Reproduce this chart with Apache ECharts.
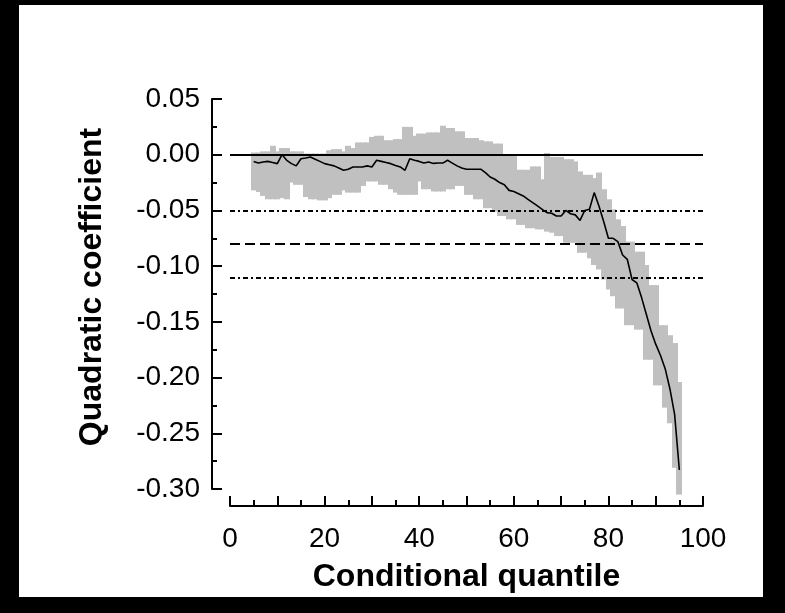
<!DOCTYPE html>
<html>
<head>
<meta charset="utf-8">
<script src="https://cdn.jsdelivr.net/npm/echarts@6/dist/echarts.min.js"></script>
<style>
html,body{margin:0;padding:0;background:#000;width:785px;height:613px;overflow:hidden;}
#paper{position:absolute;left:19px;top:5px;width:744px;height:592px;background:#fff;}
#chart{position:absolute;left:0;top:0;width:785px;height:613px;}
</style>
</head>
<body>
<div id="paper"></div>
<div id="chart"></div>
<script>
// Conditional quantiles (x)
const quantiles = [5,6,7,8,9,10,11,12,13,14,15,16,17,18,19,20,21,22,23,24,25,26,27,28,29,30,31,32,33,34,35,36,37,38,39,40,41,42,43,44,45,46,47,48,49,50,51,52,53,54,55,56,57,58,59,60,61,62,63,64,65,66,67,68,69,70,71,72,73,74,75,76,77,78,79,80,81,82,83,84,85,86,87,88,89,90,91,92,93,94,95];
// Quadratic coefficient estimates
const estimate = [-0.006,-0.0075,-0.0066,-0.006,-0.007,-0.008,0.000,-0.005,-0.008,-0.010,-0.0036,-0.003,-0.002,-0.004,-0.006,-0.008,-0.009,-0.010,-0.012,-0.014,-0.013,-0.011,-0.011,-0.011,-0.010,-0.011,-0.005,-0.006,-0.007,-0.008,-0.0096,-0.011,-0.014,-0.0036,-0.005,-0.006,-0.0075,-0.0066,-0.0078,-0.0075,-0.0075,-0.005,-0.0075,-0.010,-0.012,-0.013,-0.013,-0.013,-0.013,-0.016,-0.020,-0.022,-0.025,-0.027,-0.032,-0.033,-0.035,-0.037,-0.040,-0.043,-0.046,-0.049,-0.052,-0.0525,-0.055,-0.055,-0.050,-0.053,-0.054,-0.059,-0.050,-0.049,-0.034,-0.046,-0.060,-0.075,-0.075,-0.078,-0.090,-0.094,-0.112,-0.115,-0.128,-0.143,-0.158,-0.170,-0.180,-0.192,-0.210,-0.233,-0.283];
// Confidence band upper bound
const upper = [0.002,0.002,0.003,0.003,0.008,0.003,0.006,0.006,0.003,0.003,0.003,0.001,0.001,0.001,0.001,0.001,0.004,0.005,0.005,0.003,0.008,0.006,0.011,0.011,0.011,0.016,0.017,0.017,0.013,0.013,0.014,0.014,0.025,0.025,0.017,0.019,0.019,0.020,0.020,0.020,0.026,0.024,0.024,0.021,0.021,0.015,0.015,0.015,0.013,0.012,0.012,0.010,0.010,0.000,0.000,0.000,-0.0135,-0.0135,-0.0135,-0.0105,-0.0105,-0.022,0.0015,-0.002,-0.002,-0.002,-0.004,-0.004,-0.006,-0.015,-0.018,-0.018,-0.021,-0.016,-0.031,-0.040,-0.049,-0.058,-0.064,-0.078,-0.078,-0.087,-0.087,-0.099,-0.117,-0.117,-0.153,-0.153,-0.162,-0.169,-0.204];
// Confidence band lower bound
const lower = [-0.032,-0.0335,-0.037,-0.040,-0.040,-0.040,-0.039,-0.040,-0.025,-0.027,-0.027,-0.038,-0.040,-0.040,-0.041,-0.041,-0.039,-0.036,-0.036,-0.032,-0.034,-0.034,-0.034,-0.028,-0.024,-0.024,-0.024,-0.027,-0.027,-0.031,-0.034,-0.036,-0.036,-0.036,-0.036,-0.024,-0.031,-0.031,-0.033,-0.033,-0.033,-0.031,-0.031,-0.028,-0.028,-0.036,-0.036,-0.040,-0.040,-0.048,-0.048,-0.051,-0.055,-0.055,-0.058,-0.058,-0.063,-0.063,-0.066,-0.066,-0.067,-0.067,-0.069,-0.070,-0.073,-0.073,-0.079,-0.079,-0.079,-0.088,-0.088,-0.093,-0.099,-0.103,-0.112,-0.121,-0.127,-0.138,-0.138,-0.153,-0.153,-0.157,-0.157,-0.184,-0.184,-0.207,-0.207,-0.227,-0.241,-0.281,-0.305];
// Reference lines
const zeroLine = 0;
const meanLine = -0.083;
const ciLines = [-0.0545, -0.1125];
// Axis tick labels shown
const xTickLabels = [0, 20, 40, 60, 80, 100];

const FONT = "'Liberation Sans', Arial, sans-serif";
const bandData = quantiles.map((q, i) => [q, lower[i], upper[i]]);
const lineData = quantiles.map((q, i) => [q, estimate[i]]);

const chart = echarts.init(document.getElementById('chart'), null, {renderer: 'canvas'});
chart.setOption({
  backgroundColor: 'transparent',
  animation: false,
  grid: {left: 230, right: 82, top: 99, bottom: 124, containLabel: false},
  xAxis: {
    type: 'value', min: 0, max: 100, interval: 10, offset: 17,
    name: 'Conditional quantile', nameLocation: 'middle', nameGap: 55,
    nameTextStyle: {fontFamily: FONT, fontWeight: 'bold', fontSize: 32, color: '#000'},
    axisLine: {show: true, onZero: false, lineStyle: {color: '#000', width: 2}},
    axisTick: {show: true, inside: true, length: 10, lineStyle: {color: '#000', width: 2}},
    minorTick: {show: true, splitNumber: 2, length: 6, lineStyle: {color: '#000', width: 2}},
    axisLabel: {
      fontFamily: FONT, fontSize: 28, color: '#000', margin: 19,
      formatter: v => xTickLabels.indexOf(Math.round(v)) >= 0 && Math.abs(v - Math.round(v)) < 1e-9 ? String(Math.round(v)) : ''
    },
    splitLine: {show: false}, minorSplitLine: {show: false}
  },
  yAxis: {
    type: 'value', min: -0.30, max: 0.05, interval: 0.05, offset: 18,
    name: 'Quadratic coefficient', nameLocation: 'middle', nameGap: 104, nameRotate: 90,
    nameTextStyle: {fontFamily: FONT, fontWeight: 'bold', fontSize: 32, color: '#000', padding: [0, 0, 0, 14]},
    axisLine: {show: true, onZero: false, lineStyle: {color: '#000', width: 2}},
    axisTick: {show: true, inside: true, length: 10, lineStyle: {color: '#000', width: 2}},
    minorTick: {show: true, splitNumber: 2, length: 5, lineStyle: {color: '#000', width: 2}},
    axisLabel: {
      fontFamily: FONT, fontSize: 28, color: '#000', margin: 12,
      formatter: v => Math.abs(v) < 1e-9 ? '0.00' : v.toFixed(2)
    },
    splitLine: {show: false}, minorSplitLine: {show: false}
  },
  series: [
    {
      type: 'custom',
      data: bandData,
      encode: {x: 0, y: [1, 2]},
      z: 1,
      silent: true,
      renderItem: function (params, api) {
        const q = api.value(0);
        const p1 = api.coord([q - 0.5, api.value(2)]);
        const p2 = api.coord([q + 0.5, api.value(1)]);
        return {
          type: 'rect',
          shape: {x: Math.floor(p1[0]), y: p1[1], width: Math.ceil(p2[0] - p1[0]) + 1, height: p2[1] - p1[1]},
          style: {fill: '#c0c0c0', stroke: null}
        };
      }
    },
    {
      type: 'line',
      data: lineData,
      showSymbol: false,
      symbol: 'none',
      z: 3,
      lineStyle: {color: '#000', width: 1.6},
      markLine: {
        silent: true, symbol: 'none', label: {show: false},
        data: [
          {yAxis: zeroLine, lineStyle: {color: '#000', width: 2, type: 'solid'}},
          {yAxis: meanLine, lineStyle: {color: '#000', width: 2, type: [10, 5]}},
          {yAxis: ciLines[0], lineStyle: {color: '#000', width: 2, type: [5, 3, 2, 3]}},
          {yAxis: ciLines[1], lineStyle: {color: '#000', width: 2, type: [5, 3, 2, 3]}}
        ]
      }
    }
  ]
});
</script>
</body>
</html>
